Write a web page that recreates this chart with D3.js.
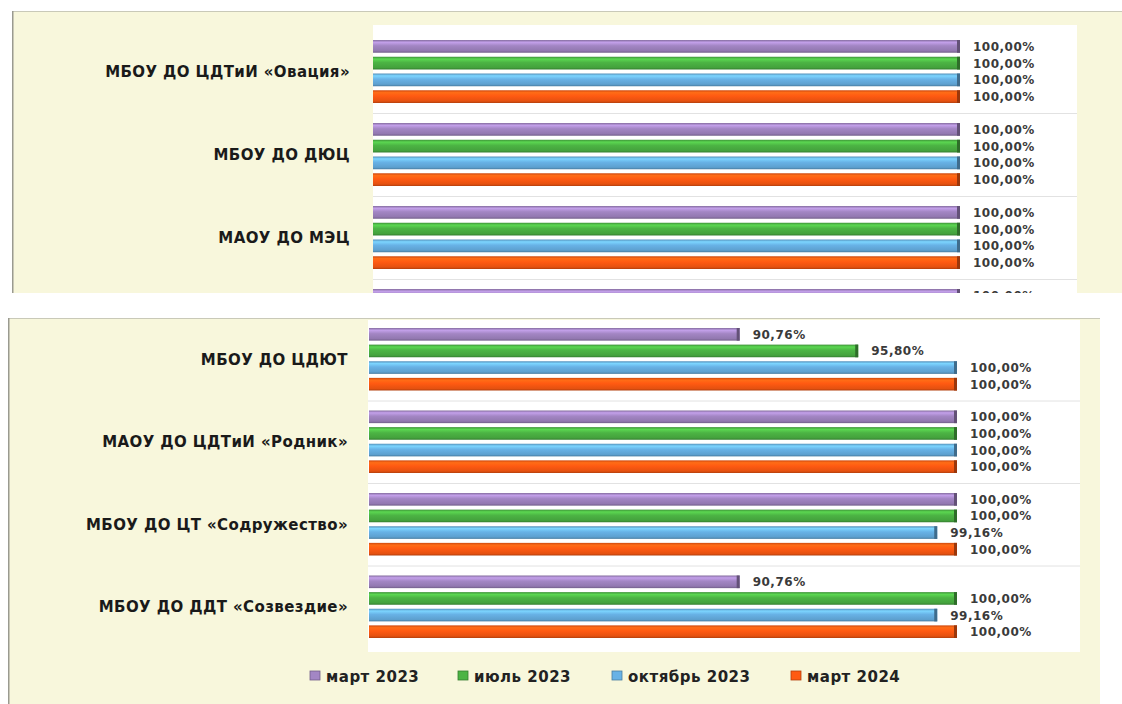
<!DOCTYPE html>
<html><head><meta charset="utf-8">
<script src="https://cdn.jsdelivr.net/npm/d3@7"></script>
<style>html,body{margin:0;padding:0;background:#fff;}svg{display:block;}</style>
</head><body>
<svg id="c" width="1122" height="704"></svg>
<script>
// ---- data ----
const seriesNames = ["март 2023", "июль 2023", "октябрь 2023", "март 2024"];
const seriesColors = ["#a386c4", "#4cb444", "#68b2e6", "#ff5a12"];
const topCategories = ["МБОУ ДО ЦДТиИ «Овация»", "МБОУ ДО ДЮЦ", "МАОУ ДО МЭЦ", ""];
const topMarch2023 = [100, 100, 100, 100];
const topJuly2023 = [100, 100, 100, 100];
const topOct2023 = [100, 100, 100, 100];
const topMarch2024 = [100, 100, 100, 100];
const bottomCategories = ["МБОУ ДО ЦДЮТ", "МАОУ ДО ЦДТиИ «Родник»", "МБОУ ДО ЦТ «Содружество»", "МБОУ ДО ДДТ «Созвездие»"];
const bottomMarch2023 = [90.76, 100, 100, 90.76];
const bottomJuly2023 = [95.80, 100, 100, 100];
const bottomOct2023 = [100, 100, 99.16, 99.16];
const bottomMarch2024 = [100, 100, 100, 100];
const axisDomain = [75, 100];

const svg = d3.select("#c");
const defs = svg.append("defs");
seriesColors.forEach((c, i) => {
  const g = defs.append("linearGradient").attr("id", "g" + i).attr("x1", 0).attr("x2", 0).attr("y1", 0).attr("y2", 1);
  const base = d3.color(c);
  g.append("stop").attr("offset", "0%").attr("stop-color", base.darker(0.6));
  g.append("stop").attr("offset", "18%").attr("stop-color", base.brighter(0.5));
  g.append("stop").attr("offset", "45%").attr("stop-color", base);
  g.append("stop").attr("offset", "85%").attr("stop-color", base.darker(0.3));
  g.append("stop").attr("offset", "100%").attr("stop-color", base.darker(1.0));
});
const fmt = v => d3.format(".2f")(v).replace(".", ",") + "%";

function panel(cfg) {
  const root = svg.append("g");
  const clipId = "clip" + cfg.id;
  defs.append("clipPath").attr("id", clipId).append("rect")
    .attr("x", cfg.px).attr("y", cfg.py).attr("width", cfg.pw).attr("height", cfg.ph);
  const g = root.append("g").attr("clip-path", `url(#${clipId})`);
  g.append("rect").attr("x", cfg.px).attr("y", cfg.py).attr("width", cfg.pw).attr("height", cfg.ph).attr("fill", "#f8f7dc");
  g.append("rect").attr("x", cfg.plotX0).attr("y", cfg.plotY0).attr("width", cfg.plotX1 - cfg.plotX0).attr("height", cfg.plotY1 - cfg.plotY0).attr("fill", "#fff");
  g.append("line").attr("x1", cfg.px).attr("x2", cfg.px + cfg.pw).attr("y1", cfg.py + 0.5).attr("y2", cfg.py + 0.5).attr("stroke", "#c9c9b8");
  g.append("line").attr("x1", cfg.px + 0.5).attr("x2", cfg.px + 0.5).attr("y1", cfg.py).attr("y2", cfg.py + cfg.ph).attr("stroke", "#9a9a90").attr("stroke-width", 2);

  const x = d3.scaleLinear().domain(axisDomain).range([cfg.barX0, cfg.barX100]);
  const y = d3.scaleBand().domain(cfg.categories).range([cfg.bandY0, cfg.bandY0 + cfg.band * cfg.categories.length]);
  const yi = d3.scaleBand().domain(d3.range(4)).range([10, cfg.band - 10]).paddingInner(0.24);

  g.selectAll("line.sep").data(cfg.categories.slice(1)).join("line")
    .attr("x1", cfg.plotX0).attr("x2", cfg.plotX1)
    .attr("y1", d => y(d) + 0.5).attr("y2", d => y(d) + 0.5)
    .attr("stroke", "#e2e2e2");

  const rows = [];
  cfg.categories.forEach((c, ci) => cfg.series.forEach((s, si) => rows.push({c, si, v: s[ci]})));
  const bars = g.selectAll("g.bar").data(rows).join("g");
  bars.append("rect")
    .attr("x", x(axisDomain[0])).attr("y", d => y(d.c) + yi(d.si))
    .attr("width", d => x(d.v) - x(axisDomain[0])).attr("height", yi.bandwidth())
    .attr("fill", d => `url(#g${d.si})`);
  bars.append("rect")
    .attr("x", d => x(d.v) - 3).attr("y", d => y(d.c) + yi(d.si))
    .attr("width", 3).attr("height", yi.bandwidth())
    .attr("fill", d => d3.color(seriesColors[d.si]).darker(1.4));
  bars.append("text")
    .attr("x", d => x(d.v) + 13).attr("y", d => y(d.c) + yi(d.si) + yi.bandwidth() / 2 + 4.5)
    .attr("font-family", "DejaVu Sans, sans-serif").attr("font-size", 12).attr("font-weight", "bold")
    .attr("letter-spacing", 0.5)
    .attr("fill", "#3a3a3a").text(d => fmt(d.v));

  g.selectAll("text.cat").data(cfg.categories).join("text")
    .attr("x", cfg.labelX).attr("y", d => y(d) + y.bandwidth() / 2 + 5.5)
    .attr("text-anchor", "end").attr("font-family", "DejaVu Sans, sans-serif")
    .attr("font-size", 15).attr("font-weight", "bold").attr("letter-spacing", 0.4)
    .attr("fill", "#1a1a1a").text(d => d);
  return g;
}

panel({id: "t", px: 12, py: 11, pw: 1110, ph: 282,
  plotX0: 373, plotX1: 1077, plotY0: 25, plotY1: 293,
  barX0: 373, barX100: 960, bandY0: 30, band: 83,
  categories: topCategories, series: [topMarch2023, topJuly2023, topOct2023, topMarch2024], labelX: 350});

const bot = panel({id: "b", px: 8, py: 318, pw: 1092, ph: 386,
  plotX0: 368, plotX1: 1080, plotY0: 320, plotY1: 652,
  barX0: 369, barX100: 957, bandY0: 318, band: 82.5,
  categories: bottomCategories, series: [bottomMarch2023, bottomJuly2023, bottomOct2023, bottomMarch2024], labelX: 348});

// legend
const legX = [310, 458, 612, 791];
const leg = bot.selectAll("g.leg").data(seriesNames).join("g")
  .attr("transform", (d, i) => `translate(${legX[i]},676)`);
leg.append("rect").attr("x", 0).attr("y", -5).attr("width", 10).attr("height", 9)
  .attr("fill", (d, i) => seriesColors[i]).attr("stroke", (d, i) => d3.color(seriesColors[i]).darker(1)).attr("stroke-width", 0.8);
leg.append("text").attr("x", 16).attr("y", 5.5)
  .attr("font-family", "DejaVu Sans, sans-serif").attr("font-size", 15).attr("font-weight", "bold")
  .attr("letter-spacing", 0.5)
  .attr("fill", "#222").text(d => d);
</script>
</body></html>
